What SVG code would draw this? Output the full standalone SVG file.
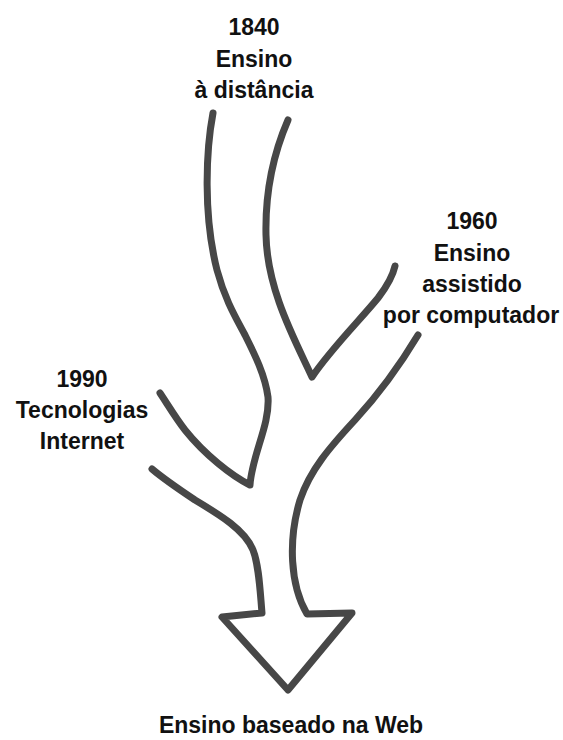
<svg xmlns="http://www.w3.org/2000/svg" width="563" height="740" viewBox="0 0 563 740">
<style>
.s{fill:none;stroke:#474747;stroke-width:7;stroke-linecap:round;stroke-linejoin:round}
.t{font-family:"Liberation Sans",Arial,Helvetica,sans-serif;font-weight:bold;font-size:23px;fill:#111;text-anchor:middle}
</style>
<rect width="563" height="740" fill="#fff"/>
<g id="strokes">
<path class="s" d="M213,113 C206,150 203,215 217,270 C225,300 236,318 245,335 C255,355 265,375 268,397 C270,425 252,455 250,485 C232,476 205,455 185,430 C175,417 168,405 160,393"/>
<path class="s" d="M288,120 C275,150 265,190 266,235 C267,290 295,340 312,377 C330,350 360,320 378,298 C388,285 393,275 395,266"/>
<path class="s" d="M418,335 C400,365 378,395 355,420 C330,447 310,470 300,500 C288,540 290,585 307,614 L352,613 L288,690 L222,617 L262,613 C260,590 259,565 253,550 C245,530 220,515 195,500 C180,490 165,480 152,469"/>
</g>
<g id="label1840" class="t">
<text x="254" y="35">1840</text>
<text x="254" y="67">Ensino</text>
<text x="254" y="98">à distância</text>
</g>
<g id="label1960" class="t">
<text x="472" y="229">1960</text>
<text x="472" y="261">Ensino</text>
<text x="472" y="292">assistido</text>
<text x="471" y="323">por computador</text>
</g>
<g id="label1990" class="t">
<text x="82" y="387">1990</text>
<text x="82" y="418">Tecnologias</text>
<text x="82" y="449">Internet</text>
</g>
<g id="labelWeb" class="t">
<text x="291" y="733">Ensino baseado na Web</text>
</g>
</svg>
